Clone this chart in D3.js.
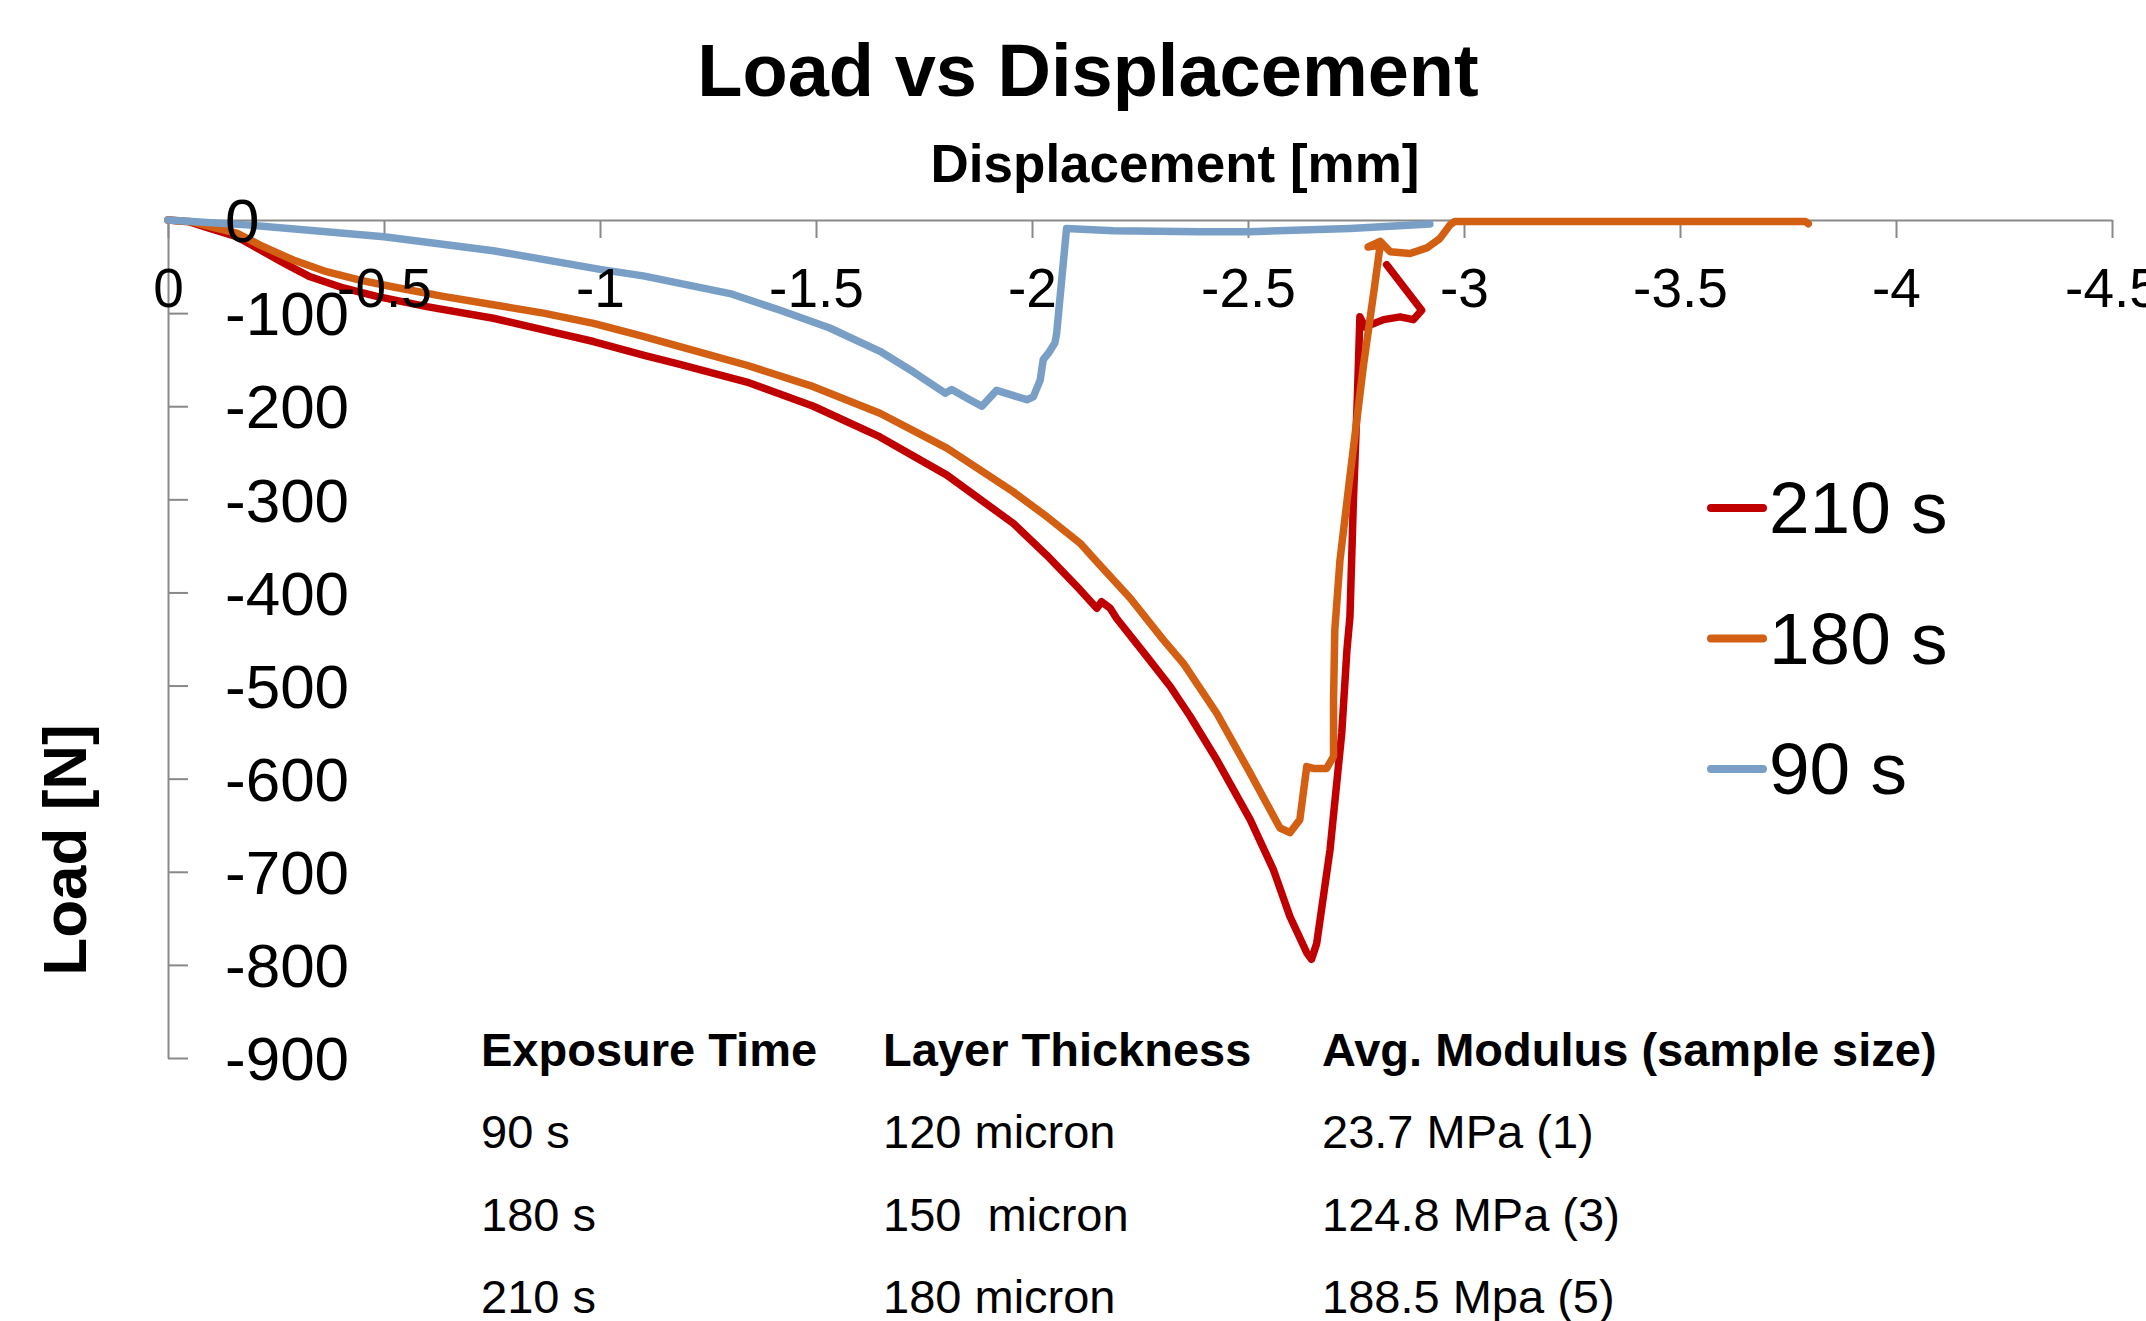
<!DOCTYPE html>
<html>
<head>
<meta charset="utf-8">
<script src="https://cdn.jsdelivr.net/npm/d3@7"></script>
<style>
  body { margin: 0; background: #fff; }
  svg { display: block; }
</style>
</head>
<body>
<div class="chart"></div>
<script>
// curves: displacement [mm] / load [N]
const disp210 = [0, -0.05, -0.097, -0.159, -0.213, -0.275, -0.329, -0.406, -0.483, -0.599, -0.753, -0.869, -0.985, -1.1, -1.185, -1.34, -1.494, -1.648, -1.803, -1.957, -2.034, -2.111, -2.15, -2.161, -2.181, -2.196, -2.266, -2.32, -2.366, -2.428, -2.505, -2.559, -2.597, -2.636, -2.647, -2.659, -2.69, -2.717, -2.729, -2.736, -2.744, -2.753, -2.759, -2.771, -2.814, -2.852, -2.883, -2.902, -2.821];
const load210 = [0, -2, -9, -18, -32, -48, -61, -73, -82, -93, -105.5, -118, -130.5, -145, -155, -174, -200, -233, -274, -326, -360, -397, -417, -410, -417, -428, -469, -501, -533, -580, -644, -698, -748, -787, -794, -777, -676, -551, -462, -426, -301, -193, -104, -115, -107, -104, -107, -97, -48];

const disp180 = [0, -0.05, -0.097, -0.159, -0.213, -0.29, -0.367, -0.444, -0.522, -0.637, -0.753, -0.869, -0.985, -1.1, -1.185, -1.34, -1.494, -1.648, -1.803, -1.957, -2.034, -2.111, -2.15, -2.227, -2.304, -2.35, -2.428, -2.505, -2.574, -2.597, -2.62, -2.636, -2.651, -2.682, -2.698, -2.698, -2.701, -2.713, -2.734, -2.767, -2.794, -2.806, -2.778, -2.806, -2.829, -2.875, -2.914, -2.944, -2.968, -2.979, -3.3, -3.6, -3.79, -3.797];
const load180 = [0, -1.5, -7, -14, -27, -43, -55.5, -64.5, -72, -82, -91, -100, -111, -125, -136, -156, -179, -207.5, -245, -292, -318.5, -347, -367, -406, -451, -476, -530, -594, -653, -658, -644, -587, -589, -589, -576, -515, -440, -365, -283, -157, -68, -27, -29, -23, -34, -36, -30, -20, -5, -1.5, -1.5, -1.5, -1.5, -4];

const disp90 = [0, -0.19, -0.5, -0.753, -1.0, -1.1, -1.185, -1.301, -1.417, -1.532, -1.648, -1.725, -1.799, -1.814, -1.856, -1.884, -1.918, -1.988, -2.003, -2.019, -2.026, -2.038, -2.053, -2.057, -2.08, -2.188, -2.389, -2.505, -2.736, -2.921];
const load90 = [0, -5.5, -18, -33, -53, -60, -68, -79, -97, -116, -141, -163, -186, -182, -193, -200, -183, -193, -190, -172, -150, -143, -132, -122, -9, -11.5, -12.5, -12.5, -9, -4.3];

const seriesNames = ["210 s", "180 s", "90 s"];
const seriesColors = ["#C00000", "#D35F13", "#7A9FC7"];

const xTicks = [0, -0.5, -1, -1.5, -2, -2.5, -3, -3.5, -4, -4.5];
const yTicks = [0, -100, -200, -300, -400, -500, -600, -700, -800, -900];

const tableHeader = ["Exposure Time", "Layer Thickness", "Avg. Modulus (sample size)"];
const tableExposure = ["90 s", "180 s", "210 s"];
const tableThickness = ["120 micron", "150  micron", "180 micron"];
const tableModulus = ["23.7 MPa (1)", "124.8 MPa (3)", "188.5 Mpa (5)"];

const font = '"Liberation Sans", Arial, Helvetica, sans-serif';
const svg_width = 2146;
const svg_height = 1321;

const svg = d3.select(".chart").append("svg")
    .attr("width", svg_width).attr("height", svg_height)
    .style("font-family", font);

const xScale = d3.scaleLinear([0, -4.5], [168, 2112]);
const yScale = d3.scaleLinear([0, -900], [220, 1058]);

const axisColor = "#898989";

// axis lines and ticks (under the curves)
svg.append("g").attr("class", "x axis")
    .attr("transform", `translate(0,${yScale(0)})`)
    .call(d3.axisBottom(xScale).tickValues(xTicks).tickSizeInner(18).tickSizeOuter(0).tickFormat(""))
    .call(g => g.selectAll("path, line").attr("stroke", axisColor).attr("stroke-width", 2));

svg.append("g").attr("class", "y axis")
    .attr("transform", `translate(${xScale(0)},0)`)
    .call(d3.axisRight(yScale).tickValues(yTicks).tickSizeInner(20).tickSizeOuter(0).tickFormat(""))
    .call(g => g.selectAll("path, line").attr("stroke", axisColor).attr("stroke-width", 2));

// curves
const series = [
    {name: seriesNames[0], x: disp210, y: load210, color: seriesColors[0]},
    {name: seriesNames[1], x: disp180, y: load180, color: seriesColors[1]},
    {name: seriesNames[2], x: disp90, y: load90, color: seriesColors[2]}
];

const line = d3.line()
    .x(d => xScale(d[0]))
    .y(d => yScale(d[1]));

svg.append("g").attr("class", "curves")
    .selectAll("path")
    .data(series)
    .join("path")
    .attr("d", s => line(s.x.map((v, i) => [v, s.y[i]])))
    .attr("fill", "none")
    .attr("stroke", s => s.color)
    .attr("stroke-width", 7.5)
    .attr("stroke-linejoin", "round")
    .attr("stroke-linecap", "round");

// tick labels sit on top of the curves
svg.append("g").attr("class", "x labels")
    .attr("transform", `translate(0,${yScale(0)})`)
    .call(d3.axisBottom(xScale).tickValues(xTicks).tickSize(0).tickPadding(48).tickFormat(d => String(d)))
    .call(g => g.select(".domain").remove())
    .attr("font-size", 55).attr("font-family", font)
    .selectAll("text").attr("fill", "#000");

svg.append("g").attr("class", "y labels")
    .attr("transform", `translate(${xScale(0)},0)`)
    .call(d3.axisRight(yScale).tickValues(yTicks).tickSize(0).tickPadding(57).tickFormat(d => String(d)))
    .call(g => g.select(".domain").remove())
    .attr("font-size", 62).attr("font-family", font)
    .selectAll("text").attr("fill", "#000").attr("dy", "0.35em");

// titles
svg.append("text")
    .attr("x", 1088).attr("y", 96)
    .attr("text-anchor", "middle")
    .attr("font-size", 74).attr("font-weight", "bold")
    .text("Load vs Displacement");

svg.append("text")
    .attr("x", 1175).attr("y", 182)
    .attr("text-anchor", "middle")
    .attr("font-size", 53).attr("font-weight", "bold")
    .text("Displacement [mm]");

svg.append("text")
    .attr("transform", "translate(86,850) rotate(-90)")
    .attr("text-anchor", "middle")
    .attr("font-size", 62).attr("font-weight", "bold")
    .text("Load [N]");

// legend
const legend = svg.append("g").attr("class", "legend")
    .selectAll("g")
    .data(series)
    .join("g")
    .attr("transform", (d, i) => `translate(1707,${508 + i * 130.5})`);

legend.append("line")
    .attr("x1", 4).attr("x2", 56)
    .attr("stroke", d => d.color)
    .attr("stroke-width", 8)
    .attr("stroke-linecap", "round");

legend.append("text")
    .attr("x", 62).attr("y", 25)
    .attr("font-size", 73)
    .text(d => d.name);

// table under the plot
const colX = [481, 883, 1322];
const table = svg.append("g").attr("class", "table").attr("font-size", 47);

table.selectAll(".head")
    .data(tableHeader)
    .join("text")
    .attr("class", "head")
    .attr("x", (d, i) => colX[i]).attr("y", 1066)
    .attr("font-weight", "bold")
    .text(d => d);

const rows = tableExposure.map((d, i) => [d, tableThickness[i], tableModulus[i]]);
rows.forEach((row, r) => {
    table.selectAll(`.row${r}`)
        .data(row)
        .join("text")
        .attr("class", `row${r}`)
        .attr("x", (d, i) => colX[i]).attr("y", 1148 + r * 82.5)
        .style("white-space", "pre")
        .text(d => d);
});
</script>
</body>
</html>
